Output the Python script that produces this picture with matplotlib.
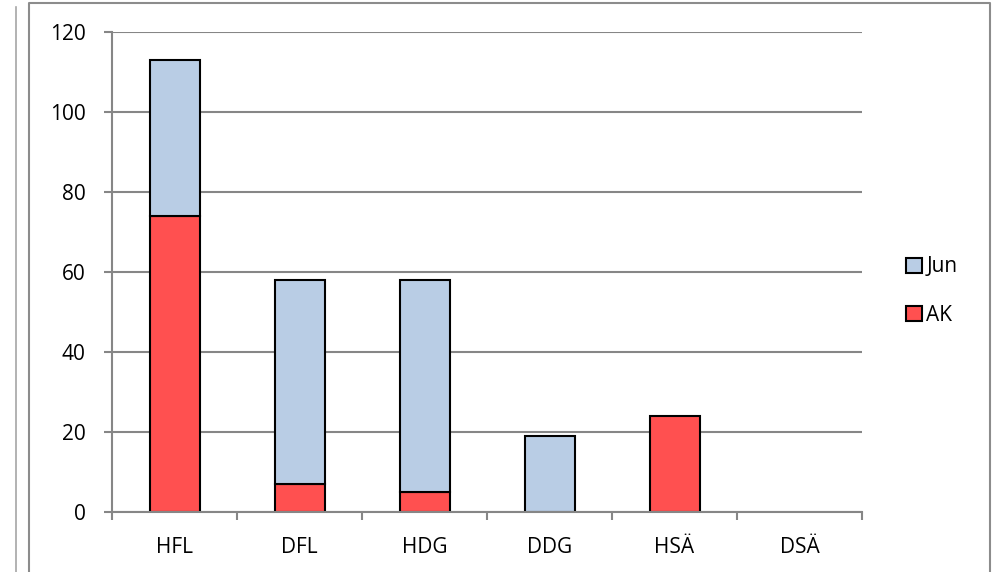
import numpy as np
import matplotlib
matplotlib.use('Agg')
import matplotlib.pyplot as plt
from matplotlib.lines import Line2D
from matplotlib.patches import Patch

# data
categories = ['HFL', 'DFL', 'HDG', 'DDG', 'HSÄ', 'DSÄ']
ak = [74, 7, 5, 0, 24, 0]
jun = [39, 51, 53, 19, 0, 0]
yticks = [0, 20, 40, 60, 80, 100, 120]

plt.rcParams['font.family'] = ['Open Sans', 'DejaVu Sans']
grey = '#868686'

fig = plt.figure(figsize=(9.97, 5.72), dpi=100)
W, H = 997, 572

# outer frames (chart object borders)
fig.add_artist(Line2D([16 / W, 16 / W], [0, 1 - 7 / H], color='#a6a6a6', lw=1.2))
fig.add_artist(Line2D([29 / W, 29 / W, 990 / W, 990 / W],
                      [0, 1 - 3 / H, 1 - 3 / H, 0], color='#8c8c8c', lw=1.5))

ax = fig.add_axes([112 / W, 1 - 512 / H, 750 / W, 480 / H])
x = np.arange(len(categories))
ax.bar(x, ak, width=0.4, color='#FF5050', edgecolor='black', linewidth=1.5,
       label='AK', zorder=3)
ax.bar(x, jun, width=0.4, bottom=ak, color='#B9CDE5', edgecolor='black',
       linewidth=1.5, label='Jun', zorder=3)
# hide empty segments' edges
for p in ax.patches:
    if p.get_height() == 0:
        p.set_visible(False)

ax.set_xlim(-0.5, len(categories) - 0.5)
ax.set_ylim(0, 120)
ax.set_yticks(yticks)
ax.set_xticks(x)
ax.set_xticklabels(categories)
ax.set_xticks(np.arange(-0.5, len(categories)), minor=True)
ax.tick_params(axis='x', which='major', length=0, pad=18, labelsize=15)
ax.tick_params(axis='x', which='minor', length=6, width=1.5, color=grey, direction='out')
ax.tick_params(axis='y', length=6, width=1.5, color=grey, pad=13, labelsize=15)
ax.yaxis.grid(True, color=grey, lw=1.5, zorder=0)
for s in ['top', 'right']:
    ax.spines[s].set_visible(False)
for s in ['left', 'bottom']:
    ax.spines[s].set_color(grey)
    ax.spines[s].set_linewidth(1.5)
    ax.spines[s].set_zorder(4)

handles = [Patch(facecolor='#B9CDE5', edgecolor='black', lw=1.5),
           Patch(facecolor='#FF5050', edgecolor='black', lw=1.5)]
fig.legend(handles, ['Jun', 'AK'], loc='center left',
           bbox_to_anchor=(896 / W, 1 - 291 / H), frameon=False, fontsize=15,
           handlelength=0.75, handleheight=0.75, handletextpad=0.2,
           labelspacing=1.3, borderpad=0)

fig.savefig('out.png', dpi=100)
